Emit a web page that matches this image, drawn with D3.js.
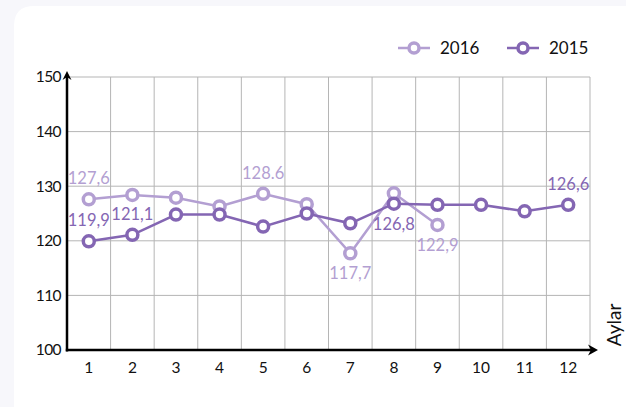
<!DOCTYPE html>
<html><head><meta charset="utf-8">
<script src="https://cdn.jsdelivr.net/npm/d3@7"></script>
<style>
html,body{margin:0;padding:0;background:#f7f7fb;}
svg{display:block;font-family:Lato, "Open Sans", sans-serif;}
</style></head>
<body><svg id="c" width="626" height="407"></svg>
<script>
const months = [1,2,3,4,5,6,7,8,9,10,11,12];
const yTicks = [100,110,120,130,140,150];
const v2016 = [127.6,128.4,127.9,126.3,128.6,126.7,117.7,128.7,122.9];
const v2015 = [119.9,121.1,124.8,124.8,122.6,125.0,123.2,126.8,126.6,126.6,125.4,126.6];
const seriesNames = ["2016","2015"];
const colors = {"2016":"#b39fd2","2015":"#8466b3"};
// labels: [index, text, position]
const labels2016 = [[0,"127,6","above"],[4,"128.6","above"],[6,"117,7","below"],[8,"122,9","below"]];
const labels2015 = [[0,"119,9","above"],[1,"121,1","above"],[7,"126,8","below"],[11,"126,6","above"]];

const svg = d3.select("#c");
svg.append("path").attr("fill","#fff")
  .attr("d","M14,630 L14,26 Q14,6 34,6 L640,6 L640,630 Z");

const L=67, R=590, T=77, B=350;
const x = d3.scaleBand().domain(months).range([L,R]);
const cx = d => x(d)+x.bandwidth()/2;
const y = d3.scaleLinear().domain([100,150]).range([B,T]);

const g = svg.append("g");
g.append("g").selectAll("line").data(yTicks.slice(1)).join("line")
  .attr("x1",L).attr("x2",R).attr("y1",d=>y(d)).attr("y2",d=>y(d))
  .attr("stroke","#b5b5b5").attr("stroke-width",1);
g.append("g").selectAll("line").data(months).join("line")
  .attr("x1",d=>x(d)+x.bandwidth()).attr("x2",d=>x(d)+x.bandwidth())
  .attr("y1",T).attr("y2",B).attr("stroke","#b5b5b5").attr("stroke-width",1);

const yAxis = d3.axisLeft(y).tickValues(yTicks).tickSize(0).tickPadding(6).tickFormat(d3.format("d"));
const ya = svg.append("g").attr("transform",`translate(${L},0)`).call(yAxis);
ya.select(".domain").remove();
ya.selectAll("text").attr("font-size",15.5).attr("fill","#111").attr("font-family","Lato").attr("letter-spacing","-0.6");
const xAxis = d3.axisBottom(x).tickSize(0).tickPadding(12);
const xa = svg.append("g").attr("transform",`translate(0,${B})`).call(xAxis);
xa.select(".domain").remove();
xa.selectAll("text").attr("font-size",15.5).attr("fill","#111").attr("font-family","Lato");

svg.append("line").attr("x1",L).attr("x2",L).attr("y1",B+1.5).attr("y2",T-2).attr("stroke","#000").attr("stroke-width",2.5);
svg.append("path").attr("d",`M${L},${T-6} L${L-4.5},${T+3} L${L},${T} L${L+4.5},${T+3} Z`).attr("fill","#000");
svg.append("line").attr("x1",L-1.2).attr("x2",R+3).attr("y1",B).attr("y2",B).attr("stroke","#000").attr("stroke-width",2.5);
svg.append("path").attr("d",`M${R+8},${B} L${R-2},${B-5.5} L${R+1},${B} L${R-2},${B+5.5} Z`).attr("fill","#000");
svg.append("text").attr("transform",`translate(621,${B-25}) rotate(-90)`).attr("text-anchor","middle")
  .attr("font-size",19).attr("fill","#111").text("Aylar");

const line = d3.line().x((d,i)=>cx(months[i])).y(d=>y(d));
function drawSeries(vals, col){
  svg.append("path").datum(vals).attr("d",line).attr("fill","none").attr("stroke",col).attr("stroke-width",2.5);
  svg.append("g").selectAll("circle").data(vals).join("circle")
    .attr("cx",(d,i)=>cx(months[i])).attr("cy",d=>y(d)).attr("r",5.5)
    .attr("fill","#fff").attr("stroke",col).attr("stroke-width",3.5);
}
drawSeries(v2016, colors["2016"]);
drawSeries(v2015, colors["2015"]);

function drawLabels(lbls, vals, col){
  svg.append("g").selectAll("text").data(lbls).join("text")
    .attr("x",d=>cx(months[d[0]])).attr("y",d=>y(vals[d[0]]) + (d[2]==="above"? -15 : 26))
    .attr("text-anchor","middle").attr("font-size",16.5).attr("fill",col).text(d=>d[1]);
}
drawLabels(labels2016, v2016, colors["2016"]);
drawLabels(labels2015, v2015, colors["2015"]);

const leg = [{name:"2016",x:398},{name:"2015",x:507}];
leg.forEach(l=>{
  const c = colors[l.name];
  svg.append("line").attr("x1",l.x).attr("x2",l.x+32).attr("y1",48).attr("y2",48).attr("stroke",c).attr("stroke-width",2.5);
  svg.append("circle").attr("cx",l.x+16).attr("cy",48).attr("r",5).attr("fill","#fff").attr("stroke",c).attr("stroke-width",3.5);
  svg.append("text").attr("x",l.x+42).attr("y",54).attr("font-size",17).attr("fill","#111").text(l.name);
});
</script></body></html>
